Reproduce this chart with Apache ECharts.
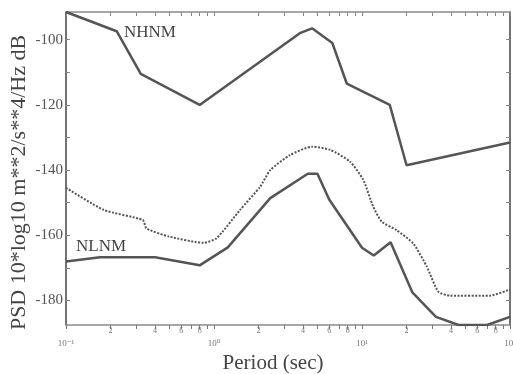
<!DOCTYPE html>
<html>
<head>
<meta charset="utf-8">
<script src="https://cdn.jsdelivr.net/npm/echarts@6/dist/echarts.min.js"></script>
<style>
  html, body { margin: 0; padding: 0; background: #fff; }
  #chart { width: 513px; height: 374px; }
</style>
</head>
<body>
<div id="chart"></div>
<script>
// Peterson noise models and a site PSD curve, period in seconds, level in dB
const nhnmPeriod = [0.1, 0.22, 0.32, 0.8, 3.8, 4.6, 6.3, 7.9, 15.4, 20, 100];
const nhnmDb = [-91.5, -97.4, -110.5, -120.0, -98.0, -96.5, -101.0, -113.5, -120.0, -138.5, -131.5];

const nlnmPeriod = [0.1, 0.17, 0.4, 0.8, 1.24, 2.4, 4.3, 5.0, 6.0, 10, 12, 15.6, 21.9, 31.6, 45, 70, 100];
const nlnmDb = [-168.0, -166.7, -166.7, -169.2, -163.7, -148.6, -141.1, -141.1, -149.0, -163.8, -166.2, -162.1, -177.5, -185.0, -187.5, -187.5, -185.0];

const sitePeriod = [0.1, 0.18, 0.33, 0.35, 0.5, 0.85, 1.04, 1.5, 2.05, 2.4, 3.26, 4.6, 6.1, 8.3, 10.2, 11.9, 13.6, 17.1, 22.2, 27.4, 32.8, 39.3, 73, 100];
const siteDb = [-145.4, -152.2, -155.3, -157.9, -160.4, -162.3, -160.9, -152.2, -145.1, -140.0, -135.4, -132.8, -133.8, -137.4, -143.0, -151.2, -155.8, -158.4, -162.5, -169.6, -177.3, -178.5, -178.5, -176.6];

const decadeLabels = ['10\u207B\u00B9', '10\u2070', '10\u00B9', '10\u00B2'];
const minorDigits = [2, 4, 6, 8];
const yLabels = [-100, -120, -140, -160, -180];

const FONT = '"Liberation Serif", "DejaVu Serif", serif';
const AXIS_COLOR = '#8a8a8a';

(() => {
  const chart = echarts.init(document.getElementById('chart'));

  const toPairs = (periods, values) => periods.map((p, i) => [Math.log10(p), values[i]]);

  // tick positions in log10 space
  const decadeTicks = [-1, 0, 1, 2];
  const allTicks = [];
  const digitTicks = [];
  for (let d = -1; d < 2; d++) {
    for (let k = 1; k < 10; k++) {
      allTicks.push(Math.log10(k) + d);
    }
    minorDigits.forEach(k => digitTicks.push(Math.log10(k) + d));
  }
  allTicks.push(2);

  const yTicks = [];
  for (let v = -100; v >= -180; v -= 10) {
    yTicks.push(v);
  }

  const baseX = {
    type: 'value',
    min: -1,
    max: 2,
    gridIndex: 0,
    splitLine: {show: false}
  };

  const option = {
    animation: false,
    backgroundColor: '#fff',
    grid: {left: 66, right: 3, top: 12, bottom: 49, containLabel: false, outerBoundsMode: 'none'},
    xAxis: [
      Object.assign({}, baseX, {
        position: 'bottom',
        name: 'Period (sec)',
        nameLocation: 'middle',
        nameGap: 28,
        nameMoveOverlap: false,
        nameTextStyle: {fontFamily: FONT, fontSize: 21, color: '#444', padding: [0, 30, 0, 0]},
        axisLine: {show: true, onZero: false, lineStyle: {color: AXIS_COLOR, width: 1.5}},
        axisTick: {show: true, inside: false, length: 4, customValues: allTicks, lineStyle: {color: '#777'}},
        axisLabel: {
          show: true,
          margin: 14,
          customValues: decadeTicks,
          fontFamily: FONT,
          fontSize: 9,
          color: '#777',
          formatter: v => decadeLabels[decadeTicks.indexOf(Math.round(v))]
        }
      }),
      Object.assign({}, baseX, {
        position: 'bottom',
        offset: 0,
        axisLine: {show: false, onZero: false},
        axisTick: {show: false},
        axisLabel: {
          show: true,
          margin: 2,
          customValues: digitTicks,
          fontFamily: FONT,
          fontSize: 8,
          color: '#777',
          formatter: v => String(Math.round(Math.pow(10, v - Math.floor(v + 1e-9))))
        }
      }),
      Object.assign({}, baseX, {
        position: 'top',
        axisLine: {show: true, onZero: false, lineStyle: {color: AXIS_COLOR, width: 1.5}},
        axisTick: {show: true, inside: true, length: 4, customValues: allTicks, lineStyle: {color: '#888'}},
        axisLabel: {show: false}
      })
    ],
    yAxis: [
      {
        type: 'value',
        min: -187.5,
        max: -91.5,
        position: 'left',
        name: 'PSD 10*log10 m**2/s**4/Hz dB',
        nameLocation: 'middle',
        nameRotate: 90,
        nameGap: 36,
        nameMoveOverlap: false,
        nameTextStyle: {fontFamily: FONT, fontSize: 22, color: '#444', padding: [0, 28, 0, 0]},
        splitLine: {show: false},
        axisLine: {show: true, onZero: false, lineStyle: {color: '#444', width: 1.5}},
        axisTick: {show: true, inside: true, length: 4, customValues: yTicks, lineStyle: {color: '#888'}},
        axisLabel: {
          show: true,
          margin: 3,
          customValues: yLabels,
          fontFamily: FONT,
          fontSize: 15,
          color: '#555'
        }
      },
      {
        type: 'value',
        min: -187.5,
        max: -91.5,
        position: 'right',
        splitLine: {show: false},
        axisLine: {show: true, onZero: false, lineStyle: {color: '#444', width: 1.5}},
        axisTick: {show: true, inside: true, length: 4, customValues: yTicks, lineStyle: {color: '#888'}},
        axisLabel: {show: false}
      }
    ],
    graphic: [
      {type: 'text', left: 124, top: 24, style: {text: 'NHNM', font: '17px ' + FONT, fill: '#444'}},
      {type: 'text', left: 76, top: 238, style: {text: 'NLNM', font: '17px ' + FONT, fill: '#444'}}
    ],
    series: [
      {
        name: 'NHNM',
        type: 'line',
        data: toPairs(nhnmPeriod, nhnmDb),
        showSymbol: false,
        lineStyle: {color: '#555', width: 2.5}
      },
      {
        name: 'NLNM',
        type: 'line',
        data: toPairs(nlnmPeriod, nlnmDb),
        showSymbol: false,
        lineStyle: {color: '#555', width: 2.5}
      },
      {
        name: 'site',
        type: 'line',
        data: toPairs(sitePeriod, siteDb),
        showSymbol: false,
        smooth: 0.2,
        lineStyle: {color: '#555', width: 2, type: [2, 1.5]}
      }
    ]
  };

  chart.setOption(option);
})();
</script>
</body>
</html>
